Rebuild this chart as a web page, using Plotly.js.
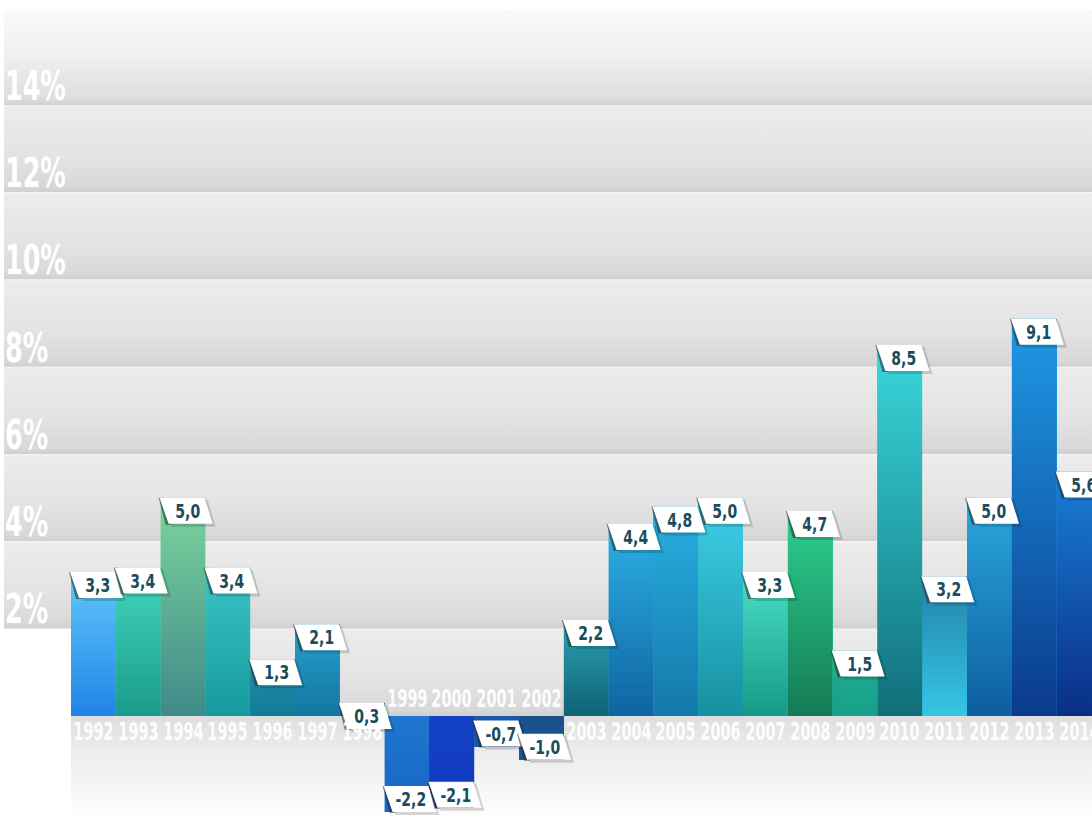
<!DOCTYPE html>
<html><head><meta charset="utf-8">
<script src="https://cdn.plot.ly/plotly-3.0.1.min.js"></script>
<style>html,body{margin:0;padding:0;background:#fff;overflow:hidden;} #chart{width:1092px;height:820px;}</style>
</head><body><div id="chart"></div>
<script>
// ---- data ----
const years = [1992,1993,1994,1995,1996,1997,1998,1999,2000,2001,2002,2003,2004,2005,2006,2007,2008,2009,2010,2011,2012,2013,2014];
const values = [3.3,3.4,5.0,3.4,1.3,2.1,0.3,-2.2,-2.1,-0.7,-1.0,2.2,4.4,4.8,5.0,3.3,4.7,1.5,8.5,3.2,5.0,9.1,5.6];
const yearLabels = years.map(String);
const yTickValues = [2,4,6,8,10,12,14];
const yTickLabels = ['2%','4%','6%','8%','10%','12%','14%'];
// colour at the baseline and at the end of each bar
const baseColors = ['#2184e6','#1a9a8a','#3f8a8a','#169a9c','#137a9a','#1176a3','#1a6a92','#1e76cf','#1542c4','#1a58a8','#1b4f8c',
  '#0f6274','#0f64a0','#1478aa','#1690a0','#169a88','#147a55','#18a08a','#106e7a','#35c6e6','#0e5da0','#0a3a8c','#0a2e86'];
const endColors = ['#62c9f8','#43d8c0','#7cd49c','#3cc4c8','#1e90a8','#2aa0cc','#1b6e96','#1766c6','#1039c0','#1a58a8','#1b5795',
  '#2aa4b4','#2cb0e6','#27b0e0','#3fd0ea','#4ae0c8','#2ccf8e','#1fae8f','#3ad8dc','#2381a8','#2aa8de','#1f9ae6','#1a7ed6'];

// ---- geometry ----
const W = 1092, H = 820;
const pxPerYear = 44.8, firstBarLeftPx = 71;
const xMin = years[0] - 0.5 - firstBarLeftPx / pxPerYear;
const xMax = xMin + W / pxPerYear;
const zeroPx = 716, pxPerUnit = 611 / 14;
const yMax = zeroPx / pxPerUnit;
const yMin = -(H - zeroPx) / pxPerUnit;
const bandTop = (zeroPx - 10) / pxPerUnit;

const FONT = '"DejaVu Sans", sans-serif';
const YEAR_SIZE = 24, VALUE_SIZE = 20, TICK_SIZE = 41;

function gradSvg(stops) {
  let s = '<svg xmlns="http://www.w3.org/2000/svg" width="10" height="100" preserveAspectRatio="none"><defs><linearGradient id="g" x1="0" y1="0" x2="0" y2="1">';
  stops.forEach(st => { s += '<stop offset="' + st[0] + '" stop-color="' + st[1] + '"/>'; });
  s += '</linearGradient></defs><rect width="10" height="100" fill="url(#g)"/></svg>';
  return 'data:image/svg+xml;base64,' + btoa(s);
}
const bandSrc = gradSvg([[0,'#f1f1f1'],[0.03,'#ececec'],[0.6,'#e3e3e3'],[0.93,'#d8d8d8'],[0.97,'#d3d3d3'],[1,'#cfcfcf']]);
const topSrc = gradSvg([[0,'#fafafa'],[0.5,'#efefef'],[0.92,'#dedede'],[1,'#d2d2d2']]);
const lowSrc = gradSvg([[0,'#dedede'],[0.35,'#ececec'],[1,'#ffffff']]);

const leftPaper = 4 / W;
const barsLeftPaper = ((years[0] - 0.5) - xMin) / (xMax - xMin);
const images = [];
const gridVals = [0].concat(yTickValues);
gridVals.forEach((g, i) => {
  const top = i < gridVals.length - 1 ? gridVals[i + 1] : bandTop;
  const x0 = g === 0 ? barsLeftPaper : leftPaper;
  images.push({source: i < gridVals.length - 1 ? bandSrc : topSrc, xref: 'paper', yref: 'y',
    x: x0, y: top, sizex: 1 - x0, sizey: top - g, xanchor: 'left', yanchor: 'top',
    sizing: 'stretch', layer: 'below'});
});
images.push({source: lowSrc, xref: 'paper', yref: 'y', x: barsLeftPaper, y: 0, sizex: 1 - barsLeftPaper,
  sizey: -yMin, xanchor: 'left', yanchor: 'top', sizing: 'stretch', layer: 'below'});

// ---- traces ----
const traces = [{
  type: 'bar', x: years, y: values, width: 1,
  marker: {color: endColors, line: {width: 0}},
  hoverinfo: 'x+y', showlegend: false
}];
years.forEach((yr, i) => {
  const v = values[i];
  const cs = v >= 0 ? [[0, baseColors[i]], [1, endColors[i]]] : [[0, endColors[i]], [1, baseColors[i]]];
  traces.push({
    type: 'scatter', mode: 'lines', x: [yr - 0.5, yr + 0.5, yr + 0.5, yr - 0.5, yr - 0.5], y: [0, 0, v, v, 0],
    fill: 'toself', fillgradient: {type: 'vertical', colorscale: cs},
    line: {width: 0, color: 'rgba(0,0,0,0)'}, hoverinfo: 'skip', showlegend: false
  });
});

// ---- tabs & labels ----
const shapes = [];
const annotations = [];
years.forEach((yr, i) => {
  const v = values[i];
  const pos = v >= 0;
  const t = pos ? 0 : 26, b = pos ? -26 : 0;
  const base = {type: 'path', xref: 'x', yref: 'y', xsizemode: 'pixel', ysizemode: 'pixel',
    xanchor: yr - 0.5, yanchor: v, layer: 'above', line: {width: 0}};
  shapes.push(Object.assign({}, base, {path: `M3,${t-2} L47,${t-2} L55,${b-3} L11,${b-3} Z`, fillcolor: 'rgba(0,0,0,0.16)'}));
  shapes.push(Object.assign({}, base, {path: `M-2,${t} L3,${t} L11,${b-1} L5,${b-1} Z`, fillcolor: 'rgba(40,40,40,0.55)'}));
  shapes.push(Object.assign({}, base, {path: `M-1,${t} L44,${t} L52,${b} L8,${b} Z`, fillcolor: '#ffffff'}));
});
years.forEach((yr, i) => {
  const v = values[i];
  annotations.push({x: yr, y: 0, xref: 'x', yref: 'y', text: yearLabels[i], showarrow: false,
    yanchor: v >= 0 ? 'top' : 'bottom', yshift: v >= 0 ? 0 : 1,
    font: {family: FONT, size: YEAR_SIZE, weight: 700, color: 'rgba(255,255,255,0.95)'}});
});
years.forEach((yr, i) => {
  const v = values[i];
  annotations.push({x: yr, y: v, xref: 'x', yref: 'y', text: v.toFixed(1).replace('.', ','), showarrow: false,
    xshift: 4, yshift: v >= 0 ? -13 : 13, yanchor: 'middle',
    font: {family: FONT, size: VALUE_SIZE, weight: 700, color: '#1b4c5c'}});
});

const layout = {
  width: W, height: H, margin: {l: 0, r: 0, t: 0, b: 0},
  paper_bgcolor: '#ffffff', plot_bgcolor: 'rgba(0,0,0,0)',
  bargap: 0, showlegend: false,
  xaxis: {type: 'linear', range: [xMin, xMax], showgrid: false, zeroline: false, showticklabels: false,
    ticks: '', tickvals: years, fixedrange: true},
  yaxis: {range: [yMin, yMax], showgrid: false, zeroline: false, tickvals: yTickValues, ticktext: yTickLabels,
    ticks: '', ticklabelposition: 'inside top', ticklabelstandoff: 2, ticklabelshift: 9, fixedrange: true,
    tickfont: {family: FONT, size: TICK_SIZE, weight: 700, color: '#ffffff'}},
  images: images, shapes: shapes, annotations: annotations
};

// condense the text horizontally (the original uses a tall, narrow typeface)
function condense() {
  const squeeze = (el, r) => {
    const anchor = el.getAttribute('text-anchor') || 'start';
    const bb = el.getBBox();
    let cx = bb.x;
    if (anchor === 'middle') cx = bb.x + bb.width / 2;
    else if (anchor === 'end') cx = bb.x + bb.width;
    const prev = el.getAttribute('transform') || '';
    el.setAttribute('transform', (prev + ` matrix(${r},0,0,1,${(cx * (1 - r)).toFixed(2)},0)`).trim());
  };
  document.querySelectorAll('#chart .annotation-text').forEach(el => {
    const fs = parseFloat(el.style.fontSize || '0');
    squeeze(el, fs >= YEAR_SIZE ? 0.6 : 0.7);
  });
  document.querySelectorAll('#chart .ytick text').forEach(el => squeeze(el, 0.62));
}
Plotly.newPlot('chart', traces, layout, {displayModeBar: false, staticPlot: true}).then(condense);
</script></body></html>
